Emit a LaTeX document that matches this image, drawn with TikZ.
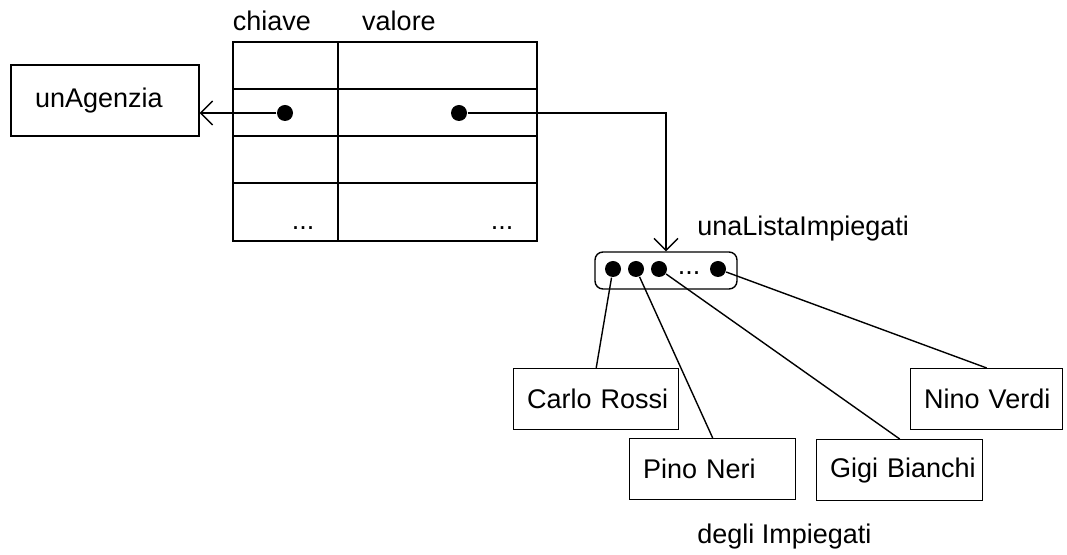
\documentclass[tikz,border=0pt]{standalone}
\usepackage{fontspec}
\setmainfont{Liberation Sans}
\usetikzlibrary{arrows.meta}

\begin{document}
\begin{tikzpicture}[x=0.5pt,y=-0.5pt,line width=0.7pt,font=\fontsize{13.5}{16}\selectfont]
  \tikzstyle{punto}=[circle,fill,inner sep=0pt,minimum size=8pt]
  \tikzstyle{persona}=[draw,anchor=north west,align=left,inner xsep=6.75pt,minimum height=30.5pt]
  \tikzstyle{freccia}=[-{Straight Barb[length=6pt,width=12pt]}]
  \useasboundingbox (0,0) rectangle (1067,555);

  % tabella chiave/valore
  \draw (233,42) rectangle (537,241);
  \draw (338,42) -- (338,241);
  \foreach \r in {89,136,183} \draw (233,\r) -- (537,\r);
  \node[anchor=base] (chiave) at (272,31) {chiave};
  \node[anchor=base] (valore) at (399,31) {valore};
  \node[anchor=base] (k_dots) at (303,230) {...};
  \node[anchor=base] (v_dots) at (502,230) {...};
  \node[punto] (k_1) at (285,113) {};
  \node[punto] (v_1) at (459,113) {};

  \node[draw,text width=70pt,inner xsep=12pt,align=left,minimum height=35.5pt] (agenzia) at (105,100.5) {unAgenzia};

  % lista degli impiegati
  \node[draw,rounded corners=4pt,minimum width=71pt,minimum height=18.5pt] (lista) at (666,270.5) {};
  \node[anchor=base west] (l_name) at (690,236) {unaListaImpiegati};
  \foreach \i/\x in {1/613,2/636,3/659,4/718} \node[punto] (p_\i) at (\x,269) {};
  \node[anchor=base] (l_dots) at (689,275) {...};

  \node[persona,text width=69pt] (carlo) at (513,368) {Carlo~Rossi};
  \node[persona,text width=69.5pt] (pino) at (629,438) {Pino~Neri};
  \node[persona,text width=69.5pt] (gigi) at (816,439) {Gigi~Bianchi};
  \node[persona,text width=62.5pt] (nino) at (910,368) {Nino~Verdi};
  \node[anchor=base west] (impiegati) at (690,544) {degli Impiegati};

  \draw[freccia] (k_1) -- (agenzia.east |- k_1);
  \draw[freccia] (v_1) -| (lista);
  \path (p_1) edge (carlo.north)
        (p_2) edge (pino.north)
        (p_3) edge (gigi.north)
        (p_4) edge (nino.north);
\end{tikzpicture}
\end{document}
